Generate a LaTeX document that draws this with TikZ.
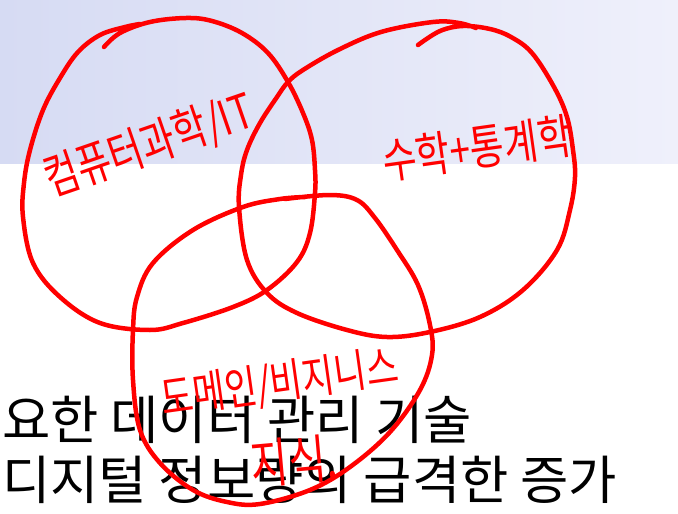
\documentclass[tikz,border=0pt]{standalone}
\usepackage{fontspec}
\usepackage{graphicx}
\usepackage{xcolor}
\definecolor{bandleft}{RGB}{214, 219, 243}
\definecolor{bandright}{RGB}{239, 240, 251}
\definecolor{penred}{RGB}{255, 0, 0}
\newfontfamily\kfont{Noto Sans CJK KR}
\newcommand{\tallhand}[1]{\scalebox{1}[1.3]{#1}}
\usetikzlibrary{positioning}

\begin{document}
\begin{tikzpicture}[x=1pt, y=-1pt,
        pen/.style={draw=penred, line width=4.5pt, line cap=round, line join=round},
        hand/.style={text=penred, inner sep=0pt, font=\kfont\fontsize{37}{39}\selectfont},
        body/.style={text=black, inner sep=0pt, anchor=west, font=\kfont\fontsize{52.5}{55}\selectfont}]

        \useasboundingbox (0,0) rectangle (678,514);
        \fill [white] (0,0) rectangle (678,514);
        \fill [left color=bandleft, right color=bandright] (0,0) rectangle (678,163);

        % slide text
        \node [body] (topline) at (2,420) {요한 데이터 관리 기술};
        \node [body, below=12pt of topline.south west, anchor=north west] (bottomline) {디지털 정보량의 급격한 증가};

        % computer science / IT
        \draw [pen] plot [smooth, tension=0.6] coordinates {
            (104,47) (120,33) (150,22) (186,18) (212,21) (242,33) (268,53) (288,82)
            (303,113) (312,140) (315,170) (315,193) (310,233) (297,262) (267,290)
            (233,307) (183,323) (150,330) (100,323) (60,297) (33,263) (23,217)
            (24,183) (30,150) (43,110) (60,78) (78,52) (100,35) (125,27) (140,24)};

        % maths + statistics
        \draw [pen] plot [smooth, tension=0.6] coordinates {
            (418,45) (440,31) (463,26) (490,29) (511,37) (532,53) (554,87) (567,117)
            (573,150) (575,177) (570,210) (557,250) (523,290) (480,317) (430,332)
            (387,337) (347,330) (297,313) (267,293) (247,260) (239,207) (241,175)
            (247,150) (260,123) (277,97) (288,82) (303,70) (338,50) (381,32)
            (433,22) (459,23) (476,28)};

        % domain / business
        \draw [pen] plot [smooth, tension=0.6] coordinates {
            (285,199) (330,195) (357,200) (375,218) (397,250) (418,285) (430,325)
            (432,355) (420,390) (390,432) (350,467) (310,490) (260,504) (227,502)
            (193,490) (160,463) (140,430) (133,380) (133,330) (137,297) (153,263)
            (193,230) (243,207) (280,199) (305,197)};

        \node [hand, rotate=19] (cslabel) at (149,146) {\tallhand{컴퓨터과학/IT}};
        \node [hand, rotate=8] (mathlabel) at (477,148) {\tallhand{수학+통계학}};
        \node [hand, rotate=8, font=\kfont\fontsize{35}{37}\selectfont] (domainlabel) at (280,384) {\tallhand{도메인/비지니스}};
        \node [hand, rotate=5, font=\kfont\fontsize{41}{43}\selectfont] (knowlabel) at (294,461) {\tallhand{지식.}};
    \end{tikzpicture}
\end{document}
